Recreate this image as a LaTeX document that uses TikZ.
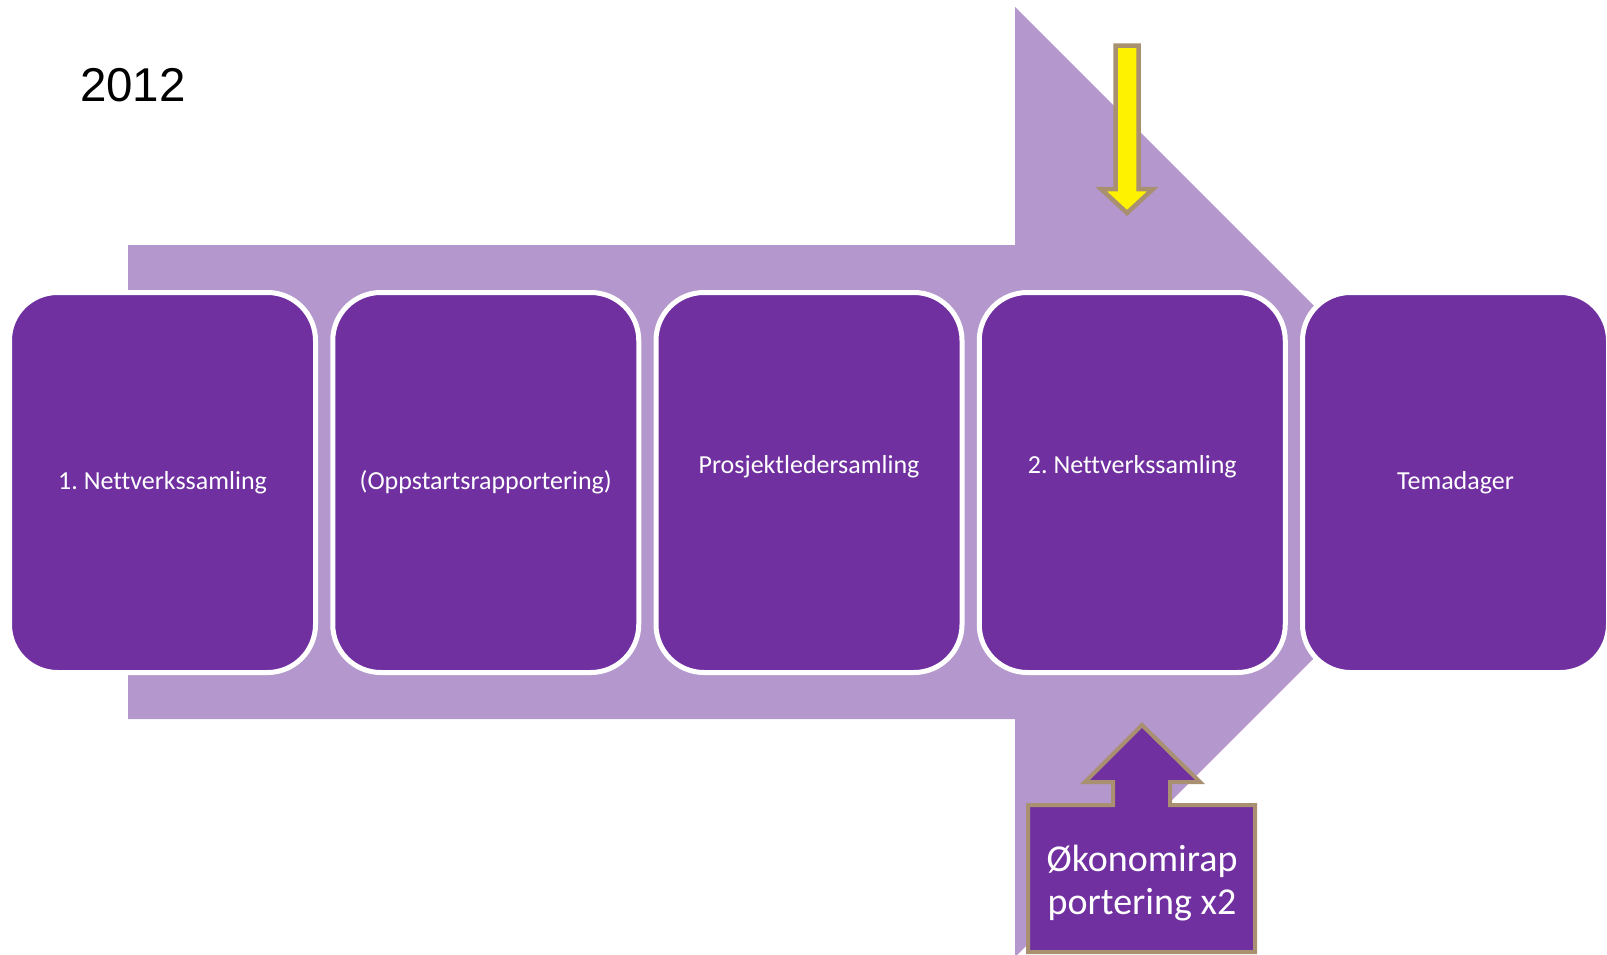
\documentclass[tikz,border=0pt]{standalone}
\usepackage{fontspec}
\setmainfont{Carlito}[Ligatures=NoCommon]
\newfontfamily\yearfont{Liberation Sans}
\usetikzlibrary{positioning}
\definecolor{deeppurple}{HTML}{7030A0}
\definecolor{lightpurple}{HTML}{B397CD}
\definecolor{tanline}{HTML}{A89070}
\frenchspacing

\begin{document}
\begin{tikzpicture}[x=1pt,y=-1pt]
\useasboundingbox (0,0) rectangle (1607,954);
\tikzset{BoxStyle/.style={draw=white,line width=5pt,fill=deeppurple,rounded corners=48pt,
  minimum width=306pt,minimum height=380pt,inner sep=0pt,outer sep=0pt,
  text=white,font=\fontsize{26}{31}\selectfont}}
\tikzset{LiftStyle/.style={text depth=37pt}}
\tikzset{CalloutStyle/.style={draw=tanline,line width=4pt,fill=deeppurple,line join=miter}}
% big arrow behind the steps
\fill[lightpurple] (128,245) -- (1015,245) -- (1015,7) -- (1490,482)
  -- (1015,957) -- (1015,719) -- (128,719) -- cycle;
\node[font=\yearfont\fontsize{47.5}{52}\selectfont] (Year) at (133,85) {2012};
\node[BoxStyle] (Nett1) at (162.5,482.5) {1. Nettverkssamling};
\node[BoxStyle,right=17.25pt of Nett1] (Oppstart) {(Oppstartsrapportering)};
\node[BoxStyle,LiftStyle,right=17.25pt of Oppstart] (Prosjekt) {Prosjektledersamling};
\node[BoxStyle,LiftStyle,right=17.25pt of Prosjekt] (Nett2) {2. Nettverkssamling};
\node[BoxStyle,right=17.25pt of Nett2] (Tema) {Temadager};
% yellow arrow
\draw[draw=tanline,line width=4.5pt,fill=yellow,line join=miter] (1115.5,45.5) -- (1138.5,45.5)
  -- (1138.5,189) -- (1153,189) -- (1127,213) -- (1101,189) -- (1115.5,189) -- cycle;
% up arrow callout
\draw[CalloutStyle] (1028,805) -- (1113,805) -- (1113,782) -- (1085,782) -- (1142,725)
  -- (1200,782) -- (1170,782) -- (1170,805) -- (1255,805) -- (1255,952) -- (1028,952) -- cycle;
\node[text=white,align=center,font=\fontsize{38}{43}\selectfont] (Okonomi) at (1142,883)
  {Økonomirap\\portering x2};
\end{tikzpicture}
\end{document}
